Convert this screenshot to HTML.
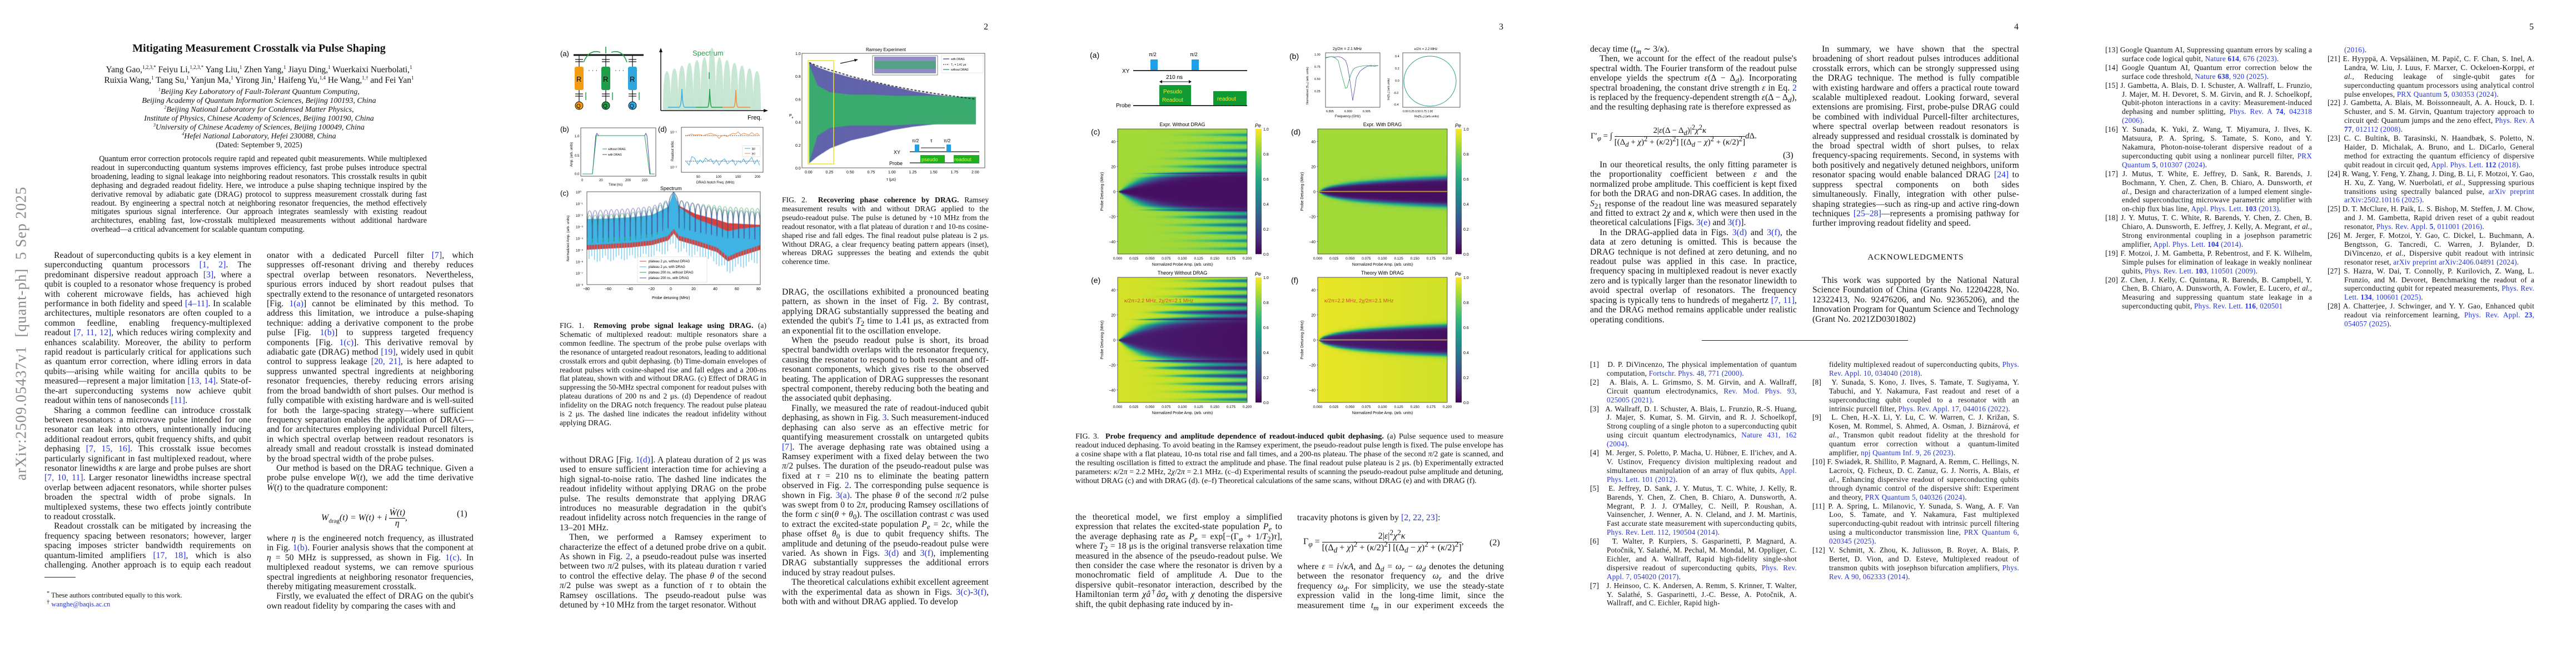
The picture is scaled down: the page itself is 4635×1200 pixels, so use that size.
<!DOCTYPE html>
<html><head><meta charset="utf-8">
<style>
html,body{margin:0;padding:0;background:#fff;}
body{width:4635px;height:1200px;position:relative;overflow:hidden;font-family:"Liberation Serif",serif;color:#111;}
sup,sub{line-height:0;}
.blk{position:absolute;text-align:justify;hyphens:auto;overflow:hidden;}
.body{font-size:15.6px;line-height:17.4px;letter-spacing:0.1px;}
.body p{margin:0;text-indent:1.1em;}
.body p.ni{text-indent:0;}
.cap{font-size:13.6px;line-height:15.9px;}
.ref{font-size:13.2px;line-height:15.9px;letter-spacing:0.25px;}
.ref div{padding-left:30px;text-indent:-30px;}
a,.lk{color:#2233dd;text-decoration:none;}
.c{text-align:center;position:absolute;}
.eq{position:absolute;font-size:16px;font-style:italic;}
svg text{font-family:"Liberation Sans",sans-serif;}
canvas{position:absolute;}
</style></head>
<body>

<div style="position:absolute;left:38px;top:600px;width:0;height:0;">
<div style="position:absolute;transform:translate(-50%,-50%) rotate(-90deg);white-space:nowrap;font-size:27px;color:#8a8a8a;letter-spacing:1px;left:0;top:0;">arXiv:2509.05437v1&nbsp; [quant-ph]&nbsp; 5 Sep 2025</div></div>

<div class="c" style="left:1764px;top:40px;width:20px;font-size:16px;">2</div>
<div class="c" style="left:2691px;top:40px;width:20px;font-size:16px;">3</div>
<div class="c" style="left:3618px;top:40px;width:20px;font-size:16px;">4</div>
<div class="c" style="left:4545px;top:40px;width:20px;font-size:16px;">5</div>

<div class="c" style="left:80px;width:772px;top:76px;font-size:20px;font-weight:bold;">Mitigating Measurement Crosstalk via Pulse Shaping</div>
<div class="c" style="left:120px;width:692px;top:116px;font-size:15.5px;line-height:19px;">Yang Gao,<sup style="font-size:9px">1,2,3,*</sup> Feiyu Li,<sup style="font-size:9px">1,2,3,*</sup> Yang Liu,<sup style="font-size:9px">1</sup> Zhen Yang,<sup style="font-size:9px">1</sup> Jiayu Ding,<sup style="font-size:9px">1</sup> Wuerkaixi Nuerbolati,<sup style="font-size:9px">1</sup><br>Ruixia Wang,<sup style="font-size:9px">1</sup> Tang Su,<sup style="font-size:9px">1</sup> Yanjun Ma,<sup style="font-size:9px">1</sup> Yirong Jin,<sup style="font-size:9px">1</sup> Haifeng Yu,<sup style="font-size:9px">1,4</sup> He Wang,<sup style="font-size:9px">1,†</sup> and Fei Yan<sup style="font-size:9px">1</sup></div>
<div class="c" style="left:120px;width:692px;top:158px;font-size:14px;line-height:16px;font-style:italic;"><sup style="font-size:8px">1</sup>Beijing Key Laboratory of Fault-Tolerant Quantum Computing,<br>Beijing Academy of Quantum Information Sciences, Beijing 100193, China<br><sup style="font-size:8px">2</sup>Beijing National Laboratory for Condensed Matter Physics,<br>Institute of Physics, Chinese Academy of Sciences, Beijing 100190, China<br><sup style="font-size:8px">3</sup>University of Chinese Academy of Sciences, Beijing 100049, China<br><sup style="font-size:8px">4</sup>Hefei National Laboratory, Hefei 230088, China<br><span style="font-style:normal">(Dated: September 9, 2025)</span></div>
<div class="blk" style="left:164px;width:604px;top:279px;height:145px;font-size:14.2px;line-height:15.9px;"><span style="padding-left:1em"></span>Quantum error correction protocols require rapid and repeated qubit measurements. While multiplexed readout in superconducting quantum systems improves efficiency, fast probe pulses introduce spectral broadening, leading to signal leakage into neighboring readout resonators. This crosstalk results in qubit dephasing and degraded readout fidelity. Here, we introduce a pulse shaping technique inspired by the derivative removal by adiabatic gate (DRAG) protocol to suppress measurement crosstalk during fast readout. By engineering a spectral notch at neighboring resonator frequencies, the method effectively mitigates spurious signal interference. Our approach integrates seamlessly with existing readout architectures, enabling fast, low-crosstalk multiplexed measurements without additional hardware overhead—a critical advancement for scalable quantum computing.</div>

<div class="blk body" style="left:80px;width:372px;top:451px;height:575px;">
<p>Readout of superconducting qubits is a key element in superconducting quantum processors <a>[1, 2]</a>. The predominant dispersive readout approach <a>[3]</a>, where a qubit is coupled to a resonator whose frequency is probed with coherent microwave fields, has achieved high performance in both fidelity and speed <a>[4–11]</a>. In scalable architectures, multiple resonators are often coupled to a common feedline, enabling frequency-multiplexed readout <a>[7, 11, 12]</a>, which reduces wiring complexity and enhances scalability. Moreover, the ability to perform rapid readout is particularly critical for applications such as quantum error correction, where idling errors in data qubits—arising while waiting for ancilla qubits to be measured—represent a major limitation <a>[13, 14]</a>. State-of-the-art superconducting systems now achieve qubit readout within tens of nanoseconds <a>[11]</a>.</p>
<p>Sharing a common feedline can introduce crosstalk between resonators: a microwave pulse intended for one resonator can leak into others, unintentionally inducing additional readout errors, qubit frequency shifts, and qubit dephasing <a>[7, 15, 16]</a>. This crosstalk issue becomes particularly significant in fast multiplexed readout, where resonator linewidths <i>κ</i> are large and probe pulses are short <a>[7, 10, 11]</a>. Larger resonator linewidths increase spectral overlap between adjacent resonators, while shorter pulses broaden the spectral width of probe signals. In multiplexed systems, these two effects jointly contribute to readout crosstalk.</p>
<p>Readout crosstalk can be mitigated by increasing the frequency spacing between resonators; however, larger spacing imposes stricter bandwidth requirements on quantum-limited amplifiers <a>[17, 18]</a>, which is also challenging. Another approach is to equip each readout res-</p></div>
<div style="position:absolute;left:80px;top:1038px;width:56px;height:1px;background:#222;"></div>
<div class="blk" style="left:84px;top:1064px;width:360px;font-size:12.5px;line-height:15.5px;"><sup>*</sup> These authors contributed equally to this work.<br><sup>†</sup> <a>wanghe@baqis.ac.cn</a></div>

<div class="blk body" style="left:480px;width:372px;top:451px;height:436px;">
<p class="ni">onator with a dedicated Purcell filter <a>[7]</a>, which suppresses off-resonant driving and thereby reduces spectral overlap between resonators. Nevertheless, spurious errors induced by short readout pulses that spectrally extend to the resonance of untargeted resonators [Fig. <a>1(a)</a>] cannot be eliminated by this method. To address this limitation, we introduce a pulse-shaping technique: adding a derivative component to the probe pulse [Fig. <a>1(b)</a>] to suppress targeted frequency components [Fig. <a>1(c)</a>]. This derivative removal by adiabatic gate (DRAG) method <a>[19]</a>, widely used in qubit control to suppress leakage <a>[20, 21]</a>, is here adapted to suppress unwanted spectral ingredients at neighboring resonator frequencies, thereby reducing errors arising from the broad bandwidth of short pulses. Our method is fully compatible with existing hardware and is well-suited for both the large-spacing strategy—where sufficient frequency separation enables the application of DRAG—and for architectures employing individual Purcell filters, in which spectral overlap between readout resonators is already small and readout crosstalk is instead dominated by the broad spectral width of the probe pulses.</p>
<p>Our method is based on the DRAG technique. Given a probe pulse envelope <i>W</i>(<i>t</i>), we add the time derivative <i>Ẇ</i>(<i>t</i>) to the quadrature component:</p></div>
<div class="eq" style="left:578px;top:914px;"><i>W</i><sub style="font-style:normal;font-size:11px">drag</sub>(<i>t</i>) = <i>W</i>(<i>t</i>) + <i>i</i> <span style="display:inline-block;vertical-align:middle;text-align:center;line-height:18px;"><span style="border-bottom:1px solid #111;display:block;">Ẇ(t)</span>η</span>,</div>
<div class="c" style="left:822px;top:916px;font-size:16px;">(1)</div>
<div class="blk body" style="left:480px;width:372px;top:960px;height:140px;">
<p class="ni">where <i>η</i> is the engineered notch frequency, as illustrated in Fig. <a>1(b)</a>. Fourier analysis shows that the component at <i>η</i> = 50 MHz is suppressed, as shown in Fig. <a>1(c)</a>. In multiplexed readout systems, we can remove spurious spectral ingredients at neighboring resonator frequencies, thereby mitigating measurement crosstalk.</p>
<p>Firstly, we evaluated the effect of DRAG on the qubit's own readout fidelity by comparing the cases with and</p></div>

<div class="blk cap" style="left:1007px;width:372px;top:578px;height:210px;">FIG. 1. &nbsp;<b>Removing probe signal leakage using DRAG.</b> (a) Schematic of multiplexed readout: multiple resonators share a common feedline. The spectrum of the probe pulse overlaps with the resonance of untargeted readout resonators, leading to additional crosstalk errors and qubit dephasing. (b) Time-domain envelopes of readout pulses with cosine-shaped rise and fall edges and a 200-ns flat plateau, shown with and without DRAG. (c) Effect of DRAG in suppressing the 50-MHz spectral component for readout pulses with plateau durations of 200 ns and 2 μs. (d) Dependence of readout infidelity on the DRAG notch frequency. The readout pulse plateau is 2 μs. The dashed line indicates the readout infidelity without applying DRAG.</div>
<div class="blk body" style="left:1007px;width:372px;top:819px;height:280px;">
<p class="ni">without DRAG [Fig. <a>1(d)</a>]. A plateau duration of 2 μs was used to ensure sufficient interaction time for achieving a high signal-to-noise ratio. The dashed line indicates the readout infidelity without applying DRAG on the probe pulse. The results demonstrate that applying DRAG introduces no measurable degradation in the qubit's readout infidelity across notch frequencies in the range of 13–201 MHz.</p>
<p>Then, we performed a Ramsey experiment to characterize the effect of a detuned probe drive on a qubit. As shown in Fig. <a>2</a>, a pseudo-readout pulse was inserted between two <i>π</i>/2 pulses, with its plateau duration <i>τ</i> varied to control the effective delay. The phase <i>θ</i> of the second <i>π</i>/2 pulse was swept as a function of <i>τ</i> to obtain the Ramsey oscillations. The pseudo-readout pulse was detuned by +10 MHz from the target resonator. Without</p></div>

<div class="blk cap" style="left:1407px;width:372px;top:352px;height:130px;">FIG. 2. &nbsp;<b>Recovering phase coherence by DRAG.</b> Ramsey measurement results with and without DRAG applied to the pseudo-readout pulse. The pulse is detuned by +10 MHz from the readout resonator, with a flat plateau of duration <i>τ</i> and 10-ns cosine-shaped rise and fall edges. The final readout pulse plateau is 2 μs. Without DRAG, a clear frequency beating pattern appears (inset), whereas DRAG suppresses the beating and extends the qubit coherence time.</div>
<div class="blk body" style="left:1407px;width:372px;top:517px;height:582px;">
<p class="ni">DRAG, the oscillations exhibited a pronounced beating pattern, as shown in the inset of Fig. <a>2</a>. By contrast, applying DRAG substantially suppressed the beating and extended the qubit's <i>T</i><sub>2</sub> time to 1.41 μs, as extracted from an exponential fit to the oscillation envelope.</p>
<p>When the pseudo readout pulse is short, its broad spectral bandwidth overlaps with the resonator frequency, causing the resonator to respond to both resonant and off-resonant components, which gives rise to the observed beating. The application of DRAG suppresses the resonant spectral component, thereby reducing both the beating and the associated qubit dephasing.</p>
<p>Finally, we measured the rate of readout-induced qubit dephasing, as shown in Fig. <a>3</a>. Such measurement-induced dephasing can also serve as an effective metric for quantifying measurement crosstalk on untargeted qubits <a>[7]</a>. The average dephasing rate was obtained using a Ramsey experiment with a fixed delay between the two <i>π</i>/2 pulses. The duration of the pseudo-readout pulse was fixed at <i>τ</i> = 210 ns to eliminate the beating pattern observed in Fig. <a>2</a>. The corresponding pulse sequence is shown in Fig. <a>3(a)</a>. The phase <i>θ</i> of the second <i>π</i>/2 pulse was swept from 0 to 2<i>π</i>, producing Ramsey oscillations of the form <i>c</i> sin(<i>θ</i> + <i>θ</i><sub>0</sub>). The oscillation contrast <i>c</i> was used to extract the excited-state population <i>P<sub>e</sub></i> = 2<i>c</i>, while the phase offset <i>θ</i><sub>0</sub> is due to qubit frequency shifts. The amplitude and detuning of the pseudo-readout pulse were varied. As shown in Figs. <a>3(d)</a> and <a>3(f)</a>, implementing DRAG substantially suppresses the additional errors induced by stray readout pulses.</p>
<p>The theoretical calculations exhibit excellent agreement with the experimental data as shown in Figs. <a>3(c)</a>-<a>3(f)</a>, both with and without DRAG applied. To develop</p></div>

<div class="blk cap" style="left:1935px;width:770px;top:778px;height:115px;font-size:14px;">FIG. 3. &nbsp;<b>Probe frequency and amplitude dependence of readout-induced qubit dephasing.</b> (a) Pulse sequence used to measure readout induced dephasing. To avoid beating in the Ramsey experiment, the pseudo-readout pulse length is fixed. The pulse envelope has a cosine shape with a flat plateau, 10-ns total rise and fall times, and a 200-ns plateau. The phase of the second <i>π</i>/2 gate is scanned, and the resulting oscillation is fitted to extract the amplitude and phase. The final readout pulse plateau is 2 μs. (b) Experimentally extracted parameters: <i>κ</i>/2<i>π</i> = 2.2 MHz, 2<i>χ</i>/2<i>π</i> = 2.1 MHz. (c–d) Experimental results of scanning the pseudo-readout pulse amplitude and detuning, without DRAG (c) and with DRAG (d). (e–f) Theoretical calculations of the same scans, without DRAG (e) and with DRAG (f).</div>
<div class="blk body" style="left:1935px;width:372px;top:922px;height:176px;">
<p class="ni">the theoretical model, we first employ a simplified expression that relates the excited-state population <i>P<sub>e</sub></i> to the average dephasing rate as <i>P<sub>e</sub></i> = exp[−(Γ<sub><i>φ</i></sub> + 1/<i>T</i><sub>2</sub>)<i>τ</i>], where <i>T</i><sub>2</sub> = 18 μs is the original transverse relaxation time measured in the absence of the pseudo-readout pulse. We then consider the case where the resonator is driven by a monochromatic field of amplitude <i>A</i>. Due to the dispersive qubit–resonator interaction, described by the Hamiltonian term <i>χâ</i><sup>†</sup><i>âσ<sub>z</sub></i> with <i>χ</i> denoting the dispersive shift, the qubit dephasing rate induced by in-</p></div>
<div class="blk body" style="left:2334px;width:372px;top:923px;height:20px;"><p class="ni">tracavity photons is given by <a>[2, 22, 23]</a>:</p></div>
<div class="eq" style="left:2345px;top:955px;font-style:normal;">Γ<sub><i>φ</i></sub> = <span style="display:inline-block;vertical-align:middle;text-align:center;line-height:20px;"><span style="border-bottom:1px solid #111;display:block;">2|<i>ε</i>|<sup>2</sup><i>χ</i><sup>2</sup><i>κ</i></span>[(Δ<sub><i>d</i></sub> + <i>χ</i>)<sup>2</sup> + (<i>κ</i>/2)<sup>2</sup>] [(Δ<sub><i>d</i></sub> − <i>χ</i>)<sup>2</sup> + (<i>κ</i>/2)<sup>2</sup>]</span>,</div>
<div class="c" style="left:2680px;top:968px;font-size:16px;">(2)</div>
<div class="blk body" style="left:2334px;width:372px;top:1011px;height:88px;"><p class="ni">where <i>ε</i> = <i>i</i>√<i>κ</i><i>A</i>, and Δ<sub><i>d</i></sub> = <i>ω<sub>r</sub></i> − <i>ω<sub>d</sub></i> denotes the detuning between the resonator frequency <i>ω<sub>r</sub></i> and the drive frequency <i>ω<sub>d</sub></i>. For simplicity, we use the steady-state expression valid in the long-time limit, since the measurement time <i>t<sub>m</sub></i> in our experiment exceeds the photon</p></div>

<div class="blk body" style="left:2861px;width:372px;top:80px;height:140px;">
<p class="ni">decay time (<i>t<sub>m</sub></i> ∼ 3/<i>κ</i>).</p>
<p>Then, we account for the effect of the readout pulse's spectral width. The Fourier transform of the readout pulse envelope yields the spectrum <i>ε</i>(Δ − Δ<sub><i>d</i></sub>). Incorporating spectral broadening, the constant drive strength <i>ε</i> in Eq. <a>2</a> is replaced by the frequency-dependent strength <i>ε</i>(Δ − Δ<sub><i>d</i></sub>), and the resulting dephasing rate is therefore expressed as</p></div>
<div class="eq" style="left:2862px;top:225px;font-style:normal;font-size:15px;">Γ′<sub><i>φ</i></sub> = ∫ <span style="display:inline-block;vertical-align:middle;text-align:center;line-height:20px;"><span style="border-bottom:1px solid #111;display:block;">2|<i>ε</i>(Δ − Δ<sub><i>d</i></sub>)|<sup>2</sup><i>χ</i><sup>2</sup><i>κ</i></span>[(Δ<sub><i>d</i></sub> + <i>χ</i>)<sup>2</sup> + (<i>κ</i>/2)<sup>2</sup>] [(Δ<sub><i>d</i></sub> − <i>χ</i>)<sup>2</sup> + (<i>κ</i>/2)<sup>2</sup>]</span><i>d</i>Δ.</div>
<div class="c" style="left:3208px;top:271px;font-size:16px;">(3)</div>
<div class="blk body" style="left:2861px;width:372px;top:288px;height:297px;">
<p>In our theoretical results, the only fitting parameter is the proportionality coefficient between <i>ε</i> and the normalized probe amplitude. This coefficient is kept fixed for both the DRAG and non-DRAG cases. In addition, the <i>S</i><sub>21</sub> response of the readout line was measured separately and fitted to extract 2<i>χ</i> and <i>κ</i>, which were then used in the theoretical calculations [Figs. <a>3(e)</a> and <a>3(f)</a>].</p>
<p>In the DRAG-applied data in Figs. <a>3(d)</a> and <a>3(f)</a>, the data at zero detuning is omitted. This is because the DRAG technique is not defined at zero detuning, and no readout pulse was applied in this case. In practice, frequency spacing in multiplexed readout is never exactly zero and is typically larger than the resonator linewidth to avoid spectral overlap of resonators. The frequency spacing is typically tens to hundreds of megahertz <a>[7, 11]</a>, and the DRAG method remains applicable under realistic operating conditions.</p></div>
<div class="blk body" style="left:3261px;width:372px;top:80px;height:332px;">
<p>In summary, we have shown that the spectral broadening of short readout pulses introduces additional crosstalk errors, which can be strongly suppressed using the DRAG technique. The method is fully compatible with existing hardware and offers a practical route toward scalable multiplexed readout. Looking forward, several extensions are promising. First, probe-pulse DRAG could be combined with individual Purcell-filter architectures, where spectral overlap between readout resonators is already suppressed and residual crosstalk is dominated by the broad spectral width of short pulses, to relax frequency-spacing requirements. Second, in systems with both positively and negatively detuned neighbors, uniform resonator spacing would enable balanced DRAG <a>[24]</a> to suppress spectral components on both sides simultaneously. Finally, integration with other pulse-shaping strategies—such as ring-up and active ring-down techniques <a>[25–28]</a>—represents a promising pathway for further improving readout fidelity and speed.</p></div>
<div class="c" style="left:3261px;width:372px;top:455px;font-size:15px;letter-spacing:1px;">ACKNOWLEDGMENTS</div>
<div class="blk body" style="left:3261px;width:372px;top:496px;height:90px;">
<p>This work was supported by the National Natural Science Foundation of China (Grants No. 12204228, No. 12322413, No. 92476206, and No. 92365206), and the Innovation Program for Quantum Science and Technology (Grant No. 2021ZD0301802)</p></div>
<div style="position:absolute;left:3062px;top:612px;width:371px;height:1px;background:#222;"></div>

<div class="blk ref" style="left:2861px;width:372px;top:648px;height:445px;">
<div>[1]&nbsp;&nbsp; D. P. DiVincenzo, The physical implementation of quantum computation, <a>Fortschr. Phys. 48, 771 (2000)</a>.</div>
<div>[2]&nbsp;&nbsp; A. Blais, A. L. Grimsmo, S. M. Girvin, and A. Wallraff, Circuit quantum electrodynamics, <a>Rev. Mod. Phys. 93, 025005 (2021)</a>.</div>
<div>[3]&nbsp;&nbsp; A. Wallraff, D. I. Schuster, A. Blais, L. Frunzio, R.-S. Huang, J. Majer, S. Kumar, S. M. Girvin, and R. J. Schoelkopf, Strong coupling of a single photon to a superconducting qubit using circuit quantum electrodynamics, <a>Nature 431, 162 (2004)</a>.</div>
<div>[4]&nbsp;&nbsp; M. Jerger, S. Poletto, P. Macha, U. Hübner, E. Il'ichev, and A. V. Ustinov, Frequency division multiplexing readout and simultaneous manipulation of an array of flux qubits, <a>Appl. Phys. Lett. 101 (2012)</a>.</div>
<div>[5]&nbsp;&nbsp; E. Jeffrey, D. Sank, J. Y. Mutus, T. C. White, J. Kelly, R. Barends, Y. Chen, Z. Chen, B. Chiaro, A. Dunsworth, A. Megrant, P. J. J. O'Malley, C. Neill, P. Roushan, A. Vainsencher, J. Wenner, A. N. Cleland, and J. M. Martinis, Fast accurate state measurement with superconducting qubits, <a>Phys. Rev. Lett. 112, 190504 (2014)</a>.</div>
<div>[6]&nbsp;&nbsp; T. Walter, P. Kurpiers, S. Gasparinetti, P. Magnard, A. Potočnik, Y. Salathé, M. Pechal, M. Mondal, M. Oppliger, C. Eichler, and A. Wallraff, Rapid high-fidelity single-shot dispersive readout of superconducting qubits, <a>Phys. Rev. Appl. 7, 054020 (2017)</a>.</div>
<div>[7]&nbsp;&nbsp; J. Heinsoo, C. K. Andersen, A. Remm, S. Krinner, T. Walter, Y. Salathé, S. Gasparinetti, J.-C. Besse, A. Potočnik, A. Wallraff, and C. Eichler, Rapid high-</div></div>
<div class="blk ref" style="left:3261px;width:372px;top:648px;height:445px;">
<div style="padding-left:30px;text-indent:0">fidelity multiplexed readout of superconducting qubits, <a>Phys. Rev. Appl. 10, 034040 (2018)</a>.</div>
<div>[8]&nbsp;&nbsp; Y. Sunada, S. Kono, J. Ilves, S. Tamate, T. Sugiyama, Y. Tabuchi, and Y. Nakamura, Fast readout and reset of a superconducting qubit coupled to a resonator with an intrinsic purcell filter, <a>Phys. Rev. Appl. 17, 044016 (2022)</a>.</div>
<div>[9]&nbsp;&nbsp; L. Chen, H.-X. Li, Y. Lu, C. W. Warren, C. J. Križan, S. Kosen, M. Rommel, S. Ahmed, A. Osman, J. Biznárová, <i>et al.</i>, Transmon qubit readout fidelity at the threshold for quantum error correction without a quantum-limited amplifier, <a>npj Quantum Inf. 9, 26 (2023)</a>.</div>
<div>[10] F. Swiadek, R. Shillito, P. Magnard, A. Remm, C. Hellings, N. Lacroix, Q. Ficheux, D. C. Zanuz, G. J. Norris, A. Blais, <i>et al.</i>, Enhancing dispersive readout of superconducting qubits through dynamic control of the dispersive shift: Experiment and theory, <a>PRX Quantum 5, 040326 (2024)</a>.</div>
<div>[11] P. A. Spring, L. Milanovic, Y. Sunada, S. Wang, A. F. Van Loo, S. Tamate, and Y. Nakamura, Fast multiplexed superconducting-qubit readout with intrinsic purcell filtering using a multiconductor transmission line, <a>PRX Quantum 6, 020345 (2025)</a>.</div>
<div>[12] V. Schmitt, X. Zhou, K. Juliusson, B. Royer, A. Blais, P. Bertet, D. Vion, and D. Esteve, Multiplexed readout of transmon qubits with josephson bifurcation amplifiers, <a>Phys. Rev. A 90, 062333 (2014)</a>.</div></div>

<div class="blk ref" style="left:3788px;width:372px;top:82px;height:540px;">
<div>[13] Google Quantum AI, Suppressing quantum errors by scaling a surface code logical qubit, <a>Nature <b>614</b>, 676 (2023)</a>.</div>
<div>[14] Google Quantum AI, Quantum error correction below the surface code threshold, <a>Nature <b>638</b>, 920 (2025)</a>.</div>
<div>[15] J. Gambetta, A. Blais, D. I. Schuster, A. Wallraff, L. Frunzio, J. Majer, M. H. Devoret, S. M. Girvin, and R. J. Schoelkopf, Qubit-photon interactions in a cavity: Measurement-induced dephasing and number splitting, <a>Phys. Rev. A <b>74</b>, 042318 (2006)</a>.</div>
<div>[16] Y. Sunada, K. Yuki, Z. Wang, T. Miyamura, J. Ilves, K. Matsuura, P. A. Spring, S. Tamate, S. Kono, and Y. Nakamura, Photon-noise-tolerant dispersive readout of a superconducting qubit using a nonlinear purcell filter, <a>PRX Quantum <b>5</b>, 010307 (2024)</a>.</div>
<div>[17] J. Mutus, T. White, E. Jeffrey, D. Sank, R. Barends, J. Bochmann, Y. Chen, Z. Chen, B. Chiaro, A. Dunsworth, <i>et al.</i>, Design and characterization of a lumped element single-ended superconducting microwave parametric amplifier with on-chip flux bias line, <a>Appl. Phys. Lett. <b>103</b> (2013)</a>.</div>
<div>[18] J. Y. Mutus, T. C. White, R. Barends, Y. Chen, Z. Chen, B. Chiaro, A. Dunsworth, E. Jeffrey, J. Kelly, A. Megrant, <i>et al.</i>, Strong environmental coupling in a josephson parametric amplifier, <a>Appl. Phys. Lett. <b>104</b> (2014)</a>.</div>
<div>[19] F. Motzoi, J. M. Gambetta, P. Rebentrost, and F. K. Wilhelm, Simple pulses for elimination of leakage in weakly nonlinear qubits, <a>Phys. Rev. Lett. <b>103</b>, 110501 (2009)</a>.</div>
<div>[20] Z. Chen, J. Kelly, C. Quintana, R. Barends, B. Campbell, Y. Chen, B. Chiaro, A. Dunsworth, A. Fowler, E. Lucero, <i>et al.</i>, Measuring and suppressing quantum state leakage in a superconducting qubit, <a>Phys. Rev. Lett. <b>116</b>, 020501</a></div></div>
<div class="blk ref" style="left:4188px;width:372px;top:82px;height:560px;">
<div style="padding-left:30px;text-indent:0"><a>(2016)</a>.</div>
<div>[21] E. Hyyppä, A. Vepsäläinen, M. Papič, C. F. Chan, S. Inel, A. Landra, W. Liu, J. Luus, F. Marxer, C. Ockeloen-Korppi, <i>et al.</i>, Reducing leakage of single-qubit gates for superconducting quantum processors using analytical control pulse envelopes, <a>PRX Quantum <b>5</b>, 030353 (2024)</a>.</div>
<div>[22] J. Gambetta, A. Blais, M. Boissonneault, A. A. Houck, D. I. Schuster, and S. M. Girvin, Quantum trajectory approach to circuit qed: Quantum jumps and the zeno effect, <a>Phys. Rev. A <b>77</b>, 012112 (2008)</a>.</div>
<div>[23] C. C. Bultink, B. Tarasinski, N. Haandbæk, S. Poletto, N. Haider, D. Michalak, A. Bruno, and L. DiCarlo, General method for extracting the quantum efficiency of dispersive qubit readout in circuit qed, <a>Appl. Phys. Lett. <b>112</b> (2018)</a>.</div>
<div>[24] R. Wang, Y. Feng, Y. Zhang, J. Ding, B. Li, F. Motzoi, Y. Gao, H. Xu, Z. Yang, W. Nuerbolati, <i>et al.</i>, Suppressing spurious transitions using spectrally balanced pulse, <a>arXiv preprint arXiv:2502.10116 (2025)</a>.</div>
<div>[25] D. T. McClure, H. Paik, L. S. Bishop, M. Steffen, J. M. Chow, and J. M. Gambetta, Rapid driven reset of a qubit readout resonator, <a>Phys. Rev. Appl. <b>5</b>, 011001 (2016)</a>.</div>
<div>[26] M. Jerger, F. Motzoi, Y. Gao, C. Dickel, L. Buchmann, A. Bengtsson, G. Tancredi, C. Warren, J. Bylander, D. DiVincenzo, <i>et al.</i>, Dispersive qubit readout with intrinsic resonator reset, <a>arXiv preprint arXiv:2406.04891 (2024)</a>.</div>
<div>[27] S. Hazra, W. Dai, T. Connolly, P. Kurilovich, Z. Wang, L. Frunzio, and M. Devoret, Benchmarking the readout of a superconducting qubit for repeated measurements, <a>Phys. Rev. Lett. <b>134</b>, 100601 (2025)</a>.</div>
<div>[28] A. Chatterjee, J. Schwinger, and Y. Y. Gao, Enhanced qubit readout via reinforcement learning, <a>Phys. Rev. Appl. <b>23</b>, 054057 (2025)</a>.</div></div>

<canvas id="cvSpec" width="312" height="167" style="left:1056px;top:345px;"></canvas>
<canvas id="cvRam" width="329" height="206" style="left:1443px;top:96px;"></canvas>
<canvas id="hmC" width="233" height="225" style="left:2011px;top:232px;"></canvas>
<canvas id="hmD" width="233" height="225" style="left:2371px;top:232px;"></canvas>
<canvas id="hmE" width="233" height="225" style="left:2011px;top:499px;"></canvas>
<canvas id="hmF" width="233" height="225" style="left:2371px;top:499px;"></canvas>

<svg id="fig" width="4635" height="1200" style="position:absolute;left:0;top:0;" xmlns="http://www.w3.org/2000/svg">
<g>
<text x="1008" y="101" font-size="13">(a)</text>
<line x1="1032" y1="99" x2="1158" y2="99" stroke="#111" stroke-width="3"/>
<path d="M1080 94 Q1060 88 1050 112" fill="none" stroke="#1e9e4a" stroke-width="1.6"/>
<path d="M1100 94 Q1120 88 1128 112" fill="none" stroke="#1e9e4a" stroke-width="1.6"/>
<line x1="1090" y1="84" x2="1090" y2="96" stroke="#1e9e4a" stroke-width="1.6"/>
<g stroke="#111" stroke-width="1.2">
<line x1="1042" y1="99" x2="1042" y2="120"/><line x1="1035" y1="107" x2="1049" y2="107"/><line x1="1035" y1="111" x2="1049" y2="111"/>
<line x1="1090" y1="99" x2="1090" y2="120"/><line x1="1083" y1="107" x2="1097" y2="107"/><line x1="1083" y1="111" x2="1097" y2="111"/>
<line x1="1138" y1="99" x2="1138" y2="120"/><line x1="1131" y1="107" x2="1145" y2="107"/><line x1="1131" y1="111" x2="1145" y2="111"/>
<line x1="1042" y1="162" x2="1042" y2="183"/><line x1="1035" y1="169" x2="1049" y2="169"/><line x1="1035" y1="173" x2="1049" y2="173"/>
<line x1="1090" y1="162" x2="1090" y2="183"/><line x1="1083" y1="169" x2="1097" y2="169"/><line x1="1083" y1="173" x2="1097" y2="173"/>
<line x1="1138" y1="162" x2="1138" y2="183"/><line x1="1131" y1="169" x2="1145" y2="169"/><line x1="1131" y1="173" x2="1145" y2="173"/>
</g>
<rect x="1034" y="120" width="16" height="42" rx="3" fill="#f39c12"/>
<rect x="1082" y="120" width="16" height="42" rx="3" fill="#1e9e4a"/>
<rect x="1130" y="120" width="16" height="42" rx="3" fill="#2ea7e0"/>
<text x="1037" y="147" font-size="13">R</text><text x="1085" y="147" font-size="13">R</text><text x="1133" y="147" font-size="13">R</text>
<text x="1058" y="130" font-size="11">· · ·</text><text x="1106" y="130" font-size="11">· · ·</text>
<circle cx="1042" cy="190" r="7" fill="#f39c12" stroke="#111"/><circle cx="1090" cy="190" r="7" fill="#1e9e4a" stroke="#111"/><circle cx="1138" cy="190" r="7" fill="#2ea7e0" stroke="#111"/>
<text x="1037" y="194" font-size="10">Q</text><text x="1085" y="194" font-size="10">Q</text><text x="1133" y="194" font-size="10">Q</text>
<g stroke="#1e9e4a" stroke-width="1.4"><line x1="1054" y1="166" x2="1054" y2="180"/><line x1="1102" y1="166" x2="1102" y2="180"/><line x1="1150" y1="166" x2="1150" y2="180"/></g>
</g>
<g id="specSketch">
<line x1="1189" y1="90" x2="1189" y2="199" stroke="#111" stroke-width="1.5"/>
<line x1="1189" y1="199" x2="1378" y2="199" stroke="#111" stroke-width="1.5"/>
<polygon points="1189,86 1186,94 1192,94" fill="#111"/><polygon points="1382,199 1374,196 1374,202" fill="#111"/>
<text x="1246" y="100" font-size="13" fill="#1e9e4a">Spectrum</text>
<text x="1345" y="215" font-size="11">Freq.</text>
</g>
<g>
<text x="1008" y="237" font-size="13">(b)</text>
<rect x="1045" y="230" width="135" height="87" fill="none" stroke="#333" stroke-width="0.8"/>
<text x="1034" y="247" font-size="6">1.0</text><text x="1034" y="282" font-size="6">0.5</text><text x="1034" y="315" font-size="6">0.0</text>
<text x="1030" y="300" font-size="6" transform="rotate(-90 1030 300)">Amp. (arb. units)</text>
<text x="1046" y="326" font-size="6">0</text><text x="1078" y="326" font-size="6">20</text><text x="1125" y="326" font-size="6">200</text><text x="1155" y="326" font-size="6">220</text>
<text x="1095" y="334" font-size="6">Time (ns)</text>
<polyline points="1048,313 1066,313 1072,244 1074,240 1077,244 1160,244 1162,240 1164,244 1170,313 1178,313" fill="none" stroke="#4b4ba0" stroke-width="1"/>
<polyline points="1048,313 1066,313 1073,244 1160,244 1169,313 1178,313" fill="none" stroke="#2a9d5c" stroke-width="1"/>
<line x1="1084" y1="268" x2="1092" y2="268" stroke="#2a9d5c"/><text x="1094" y="270" font-size="5">without DRAG</text>
<line x1="1084" y1="278" x2="1092" y2="278" stroke="#4b4ba0"/><text x="1094" y="280" font-size="5">with DRAG</text>
</g>
<g>
<text x="1184" y="237" font-size="13">(d)</text>
<rect x="1226" y="229" width="147" height="81" fill="none" stroke="#333" stroke-width="0.8"/>
<text x="1206" y="240" font-size="6">10⁻¹</text><text x="1206" y="303" font-size="6">10⁻²</text>
<text x="1212" y="290" font-size="6" transform="rotate(-90 1212 290)">Readout Infid.</text>
<text x="1253" y="320" font-size="6">50</text><text x="1288" y="320" font-size="6">100</text><text x="1323" y="320" font-size="6">150</text><text x="1358" y="320" font-size="6">200</text>
<text x="1253" y="330" font-size="6">DRAG Notch Freq. (MHz)</text>
<line x1="1233" y1="244" x2="1367" y2="244" stroke="#111" stroke-dasharray="2,1.5" stroke-width="0.7"/>
<line x1="1233" y1="290" x2="1367" y2="290" stroke="#111" stroke-dasharray="2,1.5" stroke-width="0.7"/>
<polyline id="fig1dE" fill="none" stroke="#f08a3c" stroke-width="0.9"/>
<polyline id="fig1dG" fill="none" stroke="#36a9e1" stroke-width="0.9"/>
<rect x="1336" y="262" width="32" height="20" fill="#fff" stroke="#ccc" stroke-width="0.5"/>
<line x1="1340" y1="267" x2="1350" y2="267" stroke="#36a9e1"/><text x="1353" y="269" font-size="5">|g⟩</text>
<line x1="1340" y1="276" x2="1350" y2="276" stroke="#f08a3c"/><text x="1353" y="278" font-size="5">|e⟩</text>
</g>
<g>
<text x="1008" y="352" font-size="13">(c)</text>
<text x="1188" y="342" font-size="9">Spectrum</text>
<rect x="1056" y="345" width="312" height="167" fill="none" stroke="#333" stroke-width="0.8"/>
<text x="1024" y="470" font-size="6.5" transform="rotate(-90 1024 470)">Normalized Amp. (arb. units)</text>
<text x="1173" y="538" font-size="7">Probe detuning (MHz)</text>
<g id="fig1cTicks"></g>
<rect x="1147" y="462" width="125" height="46" fill="#fff" stroke="#ccc" stroke-width="0.5"/>
<line x1="1151" y1="470" x2="1163" y2="470" stroke="#d9413b"/><text x="1167" y="472" font-size="6">plateau 2 μs, without DRAG</text>
<line x1="1151" y1="480" x2="1163" y2="480" stroke="#36b4e5"/><text x="1167" y="482" font-size="6">plateau 2 μs, with DRAG</text>
<line x1="1151" y1="490" x2="1163" y2="490" stroke="#2a9d5c"/><text x="1167" y="492" font-size="6">plateau 200 ns, without DRAG</text>
<line x1="1151" y1="500" x2="1163" y2="500" stroke="#4b4ba0"/><text x="1167" y="502" font-size="6">plateau 200 ns, with DRAG</text>
</g>
<g>
<text x="1558" y="92" font-size="8">Ramsey Experiment</text>
<rect x="1443" y="96" width="329" height="206" fill="none" stroke="#333" stroke-width="0.8"/>
<text x="1420" y="210" font-size="7">P<tspan baseline-shift="sub" font-size="5">e</tspan></text>
<g id="fig2Ticks"></g>
<text x="1595" y="325" font-size="7">τ (μs)</text>
<rect x="1454" y="109" width="46" height="186" fill="none" stroke="#f2e21b" stroke-width="1.5"/>
<line x1="1512" y1="114" x2="1540" y2="108" stroke="#111" stroke-width="1.2"/><polygon points="1544,107 1537,106 1538,111" fill="#111"/>
<rect x="1570" y="100" width="117" height="35" fill="#fff" stroke="#333" stroke-width="0.6"/>
<rect x="1573" y="102" width="111" height="30" fill="#6a68b0" opacity="0.75"/>
<rect x="1573" y="110" width="111" height="14" fill="#3aaa6e" opacity="0.7"/>
<rect x="1694" y="100" width="75" height="31" fill="#fff" stroke="#ccc" stroke-width="0.5"/>
<line x1="1697" y1="106" x2="1708" y2="106" stroke="#5b5ea6" stroke-width="1.5"/><text x="1711" y="108" font-size="5">with DRAG</text>
<line x1="1697" y1="116" x2="1708" y2="116" stroke="#111" stroke-dasharray="2,1.5"/><text x="1711" y="118" font-size="5">T₂ = 1.41 μs</text>
<line x1="1697" y1="125" x2="1708" y2="125" stroke="#3aaa6e" stroke-width="1.5"/><text x="1711" y="127" font-size="5">without DRAG</text>
<line x1="1637" y1="273" x2="1762" y2="273" stroke="#111" stroke-width="1.2"/>
<rect x="1646" y="260" width="8" height="13" fill="#1fa0e6"/><rect x="1703" y="260" width="8" height="13" fill="#1fa0e6"/>
<text x="1641" y="256" font-size="8">π/2</text><text x="1698" y="256" font-size="8">π/2</text><text x="1674" y="256" font-size="9">τ</text>
<line x1="1657" y1="266" x2="1700" y2="266" stroke="#111"/>
<text x="1608" y="277" font-size="9">XY</text>
<line x1="1637" y1="293" x2="1762" y2="293" stroke="#111" stroke-width="1.2"/>
<rect x="1656" y="279" width="44" height="14" fill="#1fb01f"/><text x="1658" y="290" font-size="9" fill="#f2f23a">pseudo</text>
<rect x="1716" y="279" width="46" height="14" fill="#1fb01f"/><text x="1717" y="290" font-size="9" fill="#f2f23a">readout</text>
<text x="1600" y="297" font-size="9">Probe</text>
</g>
<g>
<text x="1961" y="104" font-size="14">(a)</text>
<text x="2067" y="101" font-size="9">π/2</text><text x="2141" y="101" font-size="9">π/2</text>
<rect x="2070" y="107" width="13" height="20" fill="#1fa0e6"/><rect x="2144" y="107" width="13" height="20" fill="#1fa0e6"/>
<line x1="2039" y1="127" x2="2244" y2="127" stroke="#333" stroke-width="2"/>
<text x="2019" y="131" font-size="10">XY</text>
<text x="2098" y="142" font-size="10">210 ns</text>
<line x1="2088" y1="147" x2="2142" y2="147" stroke="#111"/><polygon points="2086,147 2091,144 2091,150" fill="#111"/><polygon points="2144,147 2139,144 2139,150" fill="#111"/>
<rect x="2086" y="153" width="57" height="37" fill="#119933"/>
<text x="2093" y="168" font-size="10" fill="#eeee33">Pesudo</text><text x="2091" y="183" font-size="10" fill="#eeee33">Readout</text>
<rect x="2183" y="164" width="60" height="26" fill="#119933"/><text x="2190" y="181" font-size="10" fill="#eeee33">readout</text>
<line x1="2039" y1="190" x2="2244" y2="190" stroke="#333" stroke-width="2"/>
<text x="2008" y="193" font-size="10">Probe</text>
</g>
<g>
<text x="2320" y="106" font-size="14">(b)</text>
<text x="2398" y="90" font-size="7">2χ/2π = 2.1 MHz</text>
<rect x="2385" y="95" width="98" height="98" fill="none" stroke="#333" stroke-width="0.8"/>
<text x="2354" y="188" font-size="5.5" transform="rotate(-90 2354 188)">Normalized |S₂₁| (arb. units)</text>
<text x="2365" y="100" font-size="5.5">1.00</text><text x="2365" y="122" font-size="5.5">0.75</text><text x="2365" y="144" font-size="5.5">0.50</text><text x="2365" y="166" font-size="5.5">0.25</text>
<text x="2386" y="202" font-size="5.5">6.895</text><text x="2419" y="202" font-size="5.5">6.900</text><text x="2452" y="202" font-size="5.5">6.905</text>
<text x="2402" y="211" font-size="6">Frequency (GHz)</text>
<polyline id="s21g" fill="none" stroke="#4b4ba0" stroke-width="0.8"/>
<polyline id="s21e" fill="none" stroke="#2a9d5c" stroke-width="0.8"/>
<text x="2545" y="90" font-size="6">κ/2π = 2.2 MHz</text>
<rect x="2524" y="95" width="103" height="98" fill="none" stroke="#333" stroke-width="0.8"/>
<ellipse cx="2573" cy="146" rx="47" ry="45" fill="none" stroke="#2a9d8f" stroke-width="1"/>
<text x="2510" y="103" font-size="5.5">0.4</text><text x="2510" y="125" font-size="5.5">0.2</text><text x="2510" y="147" font-size="5.5">0.0</text><text x="2507" y="169" font-size="5.5">-0.2</text><text x="2507" y="190" font-size="5.5">-0.4</text>
<text x="2524" y="202" font-size="5">0.00 0.25 0.50 0.75 1.00</text>
<text x="2545" y="211" font-size="5.5">Re[S₂₁] (arb.units)</text>
<text x="2500" y="180" font-size="5" transform="rotate(-90 2500 180)">Im[S₂₁] (arb.units)</text>
</g>
<g id="fig3Axes"></g>
</svg>

<script>
const notchFreq = [13,20,27,34,41,48,55,62,69,76,83,90,97,104,111,118,125,132,139,146,153,160,167,174,181,188,195,201];
const infidE = [0.085,0.09,0.095,0.088,0.09,0.092,0.085,0.09,0.095,0.1,0.092,0.088,0.07,0.085,0.088,0.08,0.09,0.1,0.095,0.11,0.09,0.1,0.095,0.09,0.105,0.09,0.1,0.085];
const infidG = [0.014,0.011,0.02,0.018,0.012,0.016,0.013,0.018,0.015,0.017,0.012,0.016,0.011,0.015,0.017,0.012,0.014,0.016,0.011,0.015,0.013,0.017,0.012,0.015,0.019,0.012,0.016,0.011];
const specDet = [-80,-60,-40,-20,-5,0,5,20,40,50,60,80];
const peakPurple = [-1.65,-1.55,-1.45,-1.25,-0.7,0,-0.7,-1.05,-1.4,-1.6,-1.6,-1.75];
const peakGreen = [-2.05,-1.95,-1.8,-1.5,-0.8,0,-0.75,-1.0,-1.2,-1.3,-1.35,-1.45];
const redTop = [-2.4,-2.35,-2.3,-2.1,-1.4,0,-1.2,-1.9,-2.4,-2.7,-2.75,-2.85];
const blueTop = [-2.35,-2.3,-2.2,-2.0,-1.3,0,-1.3,-2.3,-3.0,-3.4,-3.2,-3.0];
const blueBottom = [-4.6,-4.5,-4.4,-4.2,-3.8,-3.2,-3.8,-4.2,-4.8,-5.6,-5.2,-4.6];
const specYTicks = [0,-1,-2,-3,-4,-5,-6,-7,-8];
const specXTicks = [-80,-60,-40,-20,0,20,40,60,80];
const ramT = [0,0.1,0.25,0.5,0.75,1.0,1.25,1.5,1.75,2.0];
const purpleUp = [0.92,0.88,0.84,0.79,0.75,0.71,0.67,0.64,0.62,0.60];
const purpleLo = [0.04,0.10,0.17,0.24,0.28,0.33,0.36,0.38,0.40,0.42];
const greenUp = [0.90,0.72,0.66,0.64,0.64,0.63,0.63,0.63,0.62,0.62];
const greenLo = [0.05,0.28,0.35,0.37,0.37,0.37,0.38,0.38,0.38,0.38];
const fitVals = [0.92,0.89,0.855,0.80,0.755,0.715,0.68,0.65,0.625,0.60];
const ramXTicks = [0,0.25,0.5,0.75,1.0,1.25,1.5,1.75,2.0];
const ramYTicks = [0,0.2,0.4,0.6,0.8,1.0];
const hmAmpTicks = [0,0.025,0.05,0.075,0.1,0.125,0.15,0.175,0.2];
const hmDetTicks = [-40,-20,0,20,40];
const cbTicks = [0,0.2,0.4,0.6,0.8,1.0];
const thrDetC = [0,6,11,14,16,20,30,40,50];
const thrAmpC = [0,0.025,0.05,0.1,0.2,0.3,0.38,0.45,0.5];
const thrDetD = [0,3,5,8,11.5,15,20,50];
const thrAmpD = [0,0.012,0.03,0.08,0.2,0.45,1.2,5];
const thrDetE = [0,6,12,16,20,30,40,50];
const thrAmpE = [0,0.02,0.05,0.1,0.18,0.3,0.38,0.45];
const thrDetF = [0,3,6,9,12,16,20,50];
const thrAmpF = [0,0.01,0.035,0.09,0.2,0.5,1.2,5];
const brightLevel = [0.86,0.86,0.9,0.93];
const stripeDepth = [0.55,0,0.6,0];
const s21Freq=[6.8935,6.895,6.896,6.897,6.898,6.899,6.8995,6.900,6.9005,6.901,6.9015,6.902,6.903,6.904,6.905,6.906,6.907,6.908];
const s21G=[0.95,0.98,0.97,0.98,0.96,0.9,0.8,0.6,0.35,0.08,0.3,0.55,0.68,0.74,0.78,0.8,0.78,0.8];
const s21E=[0.96,0.98,0.96,0.9,0.6,0.33,0.35,0.5,0.62,0.7,0.74,0.76,0.78,0.79,0.8,0.78,0.8,0.79];

function interp(xs, ys, x){
  if(x<=xs[0]) return ys[0];
  for(let i=1;i<xs.length;i++){ if(x<=xs[i]){const t=(x-xs[i-1])/(xs[i]-xs[i-1]);return ys[i-1]+t*(ys[i]-ys[i-1]);} }
  return ys[ys.length-1];
}
const VIR=[[68,1,84],[72,40,120],[62,74,137],[49,104,142],[38,130,142],[31,158,137],[53,183,121],[109,205,89],[180,222,44],[253,231,37]];
function viridis(v){v=Math.max(0,Math.min(1,v));const p=v*9,i=Math.min(8,Math.floor(p)),t=p-i;const a=VIR[i],b=VIR[i+1];return 'rgb('+Math.round(a[0]+(b[0]-a[0])*t)+','+Math.round(a[1]+(b[1]-a[1])*t)+','+Math.round(a[2]+(b[2]-a[2])*t)+')';}
const SVGNS='http://www.w3.org/2000/svg';
function svgEl(tag, attrs, parent, txt){const e=document.createElementNS(SVGNS,tag);for(const k in attrs)e.setAttribute(k,attrs[k]);if(txt!==undefined)e.textContent=txt;parent.appendChild(e);return e;}

(function(){
  const xs=f=>1226+f/210*147;
  const ys=v=>244+(Math.log10(0.085)-Math.log10(v))/(Math.log10(0.085)-Math.log10(0.0145))*46;
  document.getElementById('fig1dE').setAttribute('points',notchFreq.map((f,i)=>xs(f)+','+ys(infidE[i])).join(' '));
  document.getElementById('fig1dG').setAttribute('points',notchFreq.map((f,i)=>xs(f)+','+ys(infidG[i])).join(' '));
})();
(function(){
  const xs=f=>2385+(f-6.8935)/(6.9085-6.8935)*98, ys=v=>100+(1-v)*(166-100)/0.75;
  document.getElementById('s21g').setAttribute('points',s21Freq.map((f,i)=>xs(f)+','+ys(s21G[i])).join(' '));
  document.getElementById('s21e').setAttribute('points',s21Freq.map((f,i)=>xs(f)+','+ys(s21E[i])).join(' '));
})();
(function(){
  const g=document.getElementById('specSketch');
  const lobeH=[70,75,80,85,90,95,112,95,90,85,80,75,70];
  lobeH.forEach((h,i)=>{const cx=1200+i*13.5;const p=svgEl('path',{d:'M'+(cx-7)+' 198 Q'+(cx-7)+' '+(198-h)+' '+cx+' '+(198-h)+' Q'+(cx+7)+' '+(198-h)+' '+(cx+7)+' 198 Z',fill:'#b9e0c8',opacity:'0.8'},g);
    
    });
  svgEl('path',{d:'M1202 193 L1222 193 Q1226 193 1227 160 Q1228 193 1232 193 L1252 193',fill:'none',stroke:'#36a9e1','stroke-width':1.5},g);
  svgEl('path',{d:'M1252 193 L1273 193 Q1276 193 1277 160 Q1278 193 1281 193 L1300 193',fill:'none',stroke:'#1e9e4a','stroke-width':1.5},g);
  svgEl('path',{d:'M1300 193 L1320 193 Q1323 193 1324 162 Q1325 193 1328 193 L1350 193',fill:'none',stroke:'#f08a3c','stroke-width':1.5},g);
  svgEl('line',{x1:1276,y1:130,x2:1276,y2:142,stroke:'#1e9e4a','stroke-width':1.5},g);
})();
(function(){
  const cv=document.getElementById('cvSpec'),ctx=cv.getContext('2d');
  const W=312,H=167;
  const X=d=>(d+80)/160*W, Y=l=>(-l)/8*H;
  const tg=document.getElementById('fig1cTicks');
  specYTicks.forEach(t=>{const e=svgEl('text',{x:1036,y:345+Y(t)+3,'font-size':6.5},tg,'10'+(t===0?'⁰':'⁻'+'⁰¹²³⁴⁵⁶⁷⁸'[-t]));
    
    });
  specXTicks.forEach(t=>{const e=svgEl('text',{x:1056+X(t)-7,y:522,'font-size':7},tg,String(t).replace('-','−'));
    
    });
  function band(top,bot,color){ctx.beginPath();for(let d=-80;d<=80;d+=0.5){ctx.lineTo(X(d),Y(interp(specDet,top,d)));}for(let d=80;d>=-80;d-=0.5){ctx.lineTo(X(d),Y(interp(specDet,bot,d)));}ctx.closePath();ctx.fillStyle=color;ctx.fill();}
  band(redTop,blueBottom.map(v=>v-0.4),'#d9413b');
  band(blueTop,blueBottom,'#3fb3e3');
  ctx.strokeStyle='#3fb3e3';ctx.lineWidth=1;
  for(let d=-78;d<=78;d+=2.5){const b=interp(specDet,blueBottom,d);ctx.beginPath();ctx.moveTo(X(d),Y(b));ctx.lineTo(X(d),Y(b-0.9-0.6*Math.abs(Math.sin(d))));ctx.stroke();}
  function lobes(peaks,color){ctx.strokeStyle=color;ctx.lineWidth=1;ctx.beginPath();let first=true;for(let d=-80;d<=80;d+=0.1){const pk=interp(specDet,peaks,d);const s=Math.abs(Math.sin(Math.PI*d/5));const v=Math.abs(d)<2.5?pk:pk+Math.log10(Math.max(s,0.004));const y=Y(Math.max(v,-8));if(first){ctx.moveTo(X(d),y);first=false;}else ctx.lineTo(X(d),y);}ctx.stroke();}
  lobes(peakGreen,'#2a9d5c');
  lobes(peakPurple,'#4b4ba0');
})();
(function(){
  const cv=document.getElementById('cvRam'),ctx=cv.getContext('2d');
  const X=t=>13+t/2.0*300, Y=v=>206-v*206;
  const tg=document.getElementById('fig2Ticks');
  ramXTicks.forEach(t=>{const e=svgEl('text',{x:1443+X(t)-8,y:312,'font-size':7},tg,t.toFixed(2));
    
    });
  ramYTicks.forEach(t=>{const e=svgEl('text',{x:1431,y:96+Y(t)+3,'font-size':7},tg,t.toFixed(1));
    
    });
  function band(up,lo,color){ctx.beginPath();for(let t=0;t<=2.0;t+=0.005){ctx.lineTo(X(t),Y(interp(ramT,up,t)));}for(let t=2.0;t>=0;t-=0.005){ctx.lineTo(X(t),Y(interp(ramT,lo,t)));}ctx.closePath();ctx.fillStyle=color;ctx.fill();}
  band(purpleUp,purpleLo,'#5b5ea6');
  ctx.strokeStyle='rgba(150,150,210,0.35)';ctx.lineWidth=0.6;
  for(let t=0;t<=2.0;t+=0.012){const u=interp(ramT,purpleUp,t),l=interp(ramT,purpleLo,t);ctx.beginPath();ctx.moveTo(X(t),Y(u));ctx.lineTo(X(t),Y(l));ctx.stroke();}
  band(greenUp,greenLo,'#3aaa6e');
  ctx.setLineDash([4,3]);ctx.strokeStyle='#111';ctx.lineWidth=1.6;ctx.beginPath();
  for(let t=0;t<=2.0;t+=0.02){const v=interp(ramT,fitVals,t);if(t===0)ctx.moveTo(X(t),Y(v));else ctx.lineTo(X(t),Y(v));}ctx.stroke();
})();
function drawHeat(id, idx, thrDet, thrAmp, x0, y0, title, label, annot){
  const cv=document.getElementById(id),ctx=cv.getContext('2d');
  const W=233,H=225, hi=brightLevel[idx], sd=stripeDepth[idx], lo=0.04;
  const edge=thrDet[3];
  for(let py=0;py<H;py+=1){
    const d=50-py/H*100, ad=Math.abs(d);
    for(let px=0;px<W;px+=2){
      const a=px/W*0.2;
      let thr=interp(thrDet,thrAmp,ad);
      if(sd>0 && ad>edge){thr=thr*(1-sd*0.5*(1+Math.cos(2*Math.PI*(ad-edge)/6.3)));}
      let v=hi;
      if(thr<=0) v=lo; else { const r=a/thr; v=lo+(hi-lo)/(1+Math.pow(r,4)); }
      if(idx>=2) v=Math.min(v+0.04*(1-a/0.2),1);
      ctx.fillStyle=viridis(v);ctx.fillRect(px,py,2,1);
    }
  }
  if(idx===1||idx===3){ctx.fillStyle='#f0c23a';ctx.fillRect(2,H/2-0.7,W,1.4);}
  const g=document.getElementById('fig3Axes');
  const t=svgEl('text',{x:x0+W/2,y:y0-5,'font-size':9,'text-anchor':'middle'},g,title);
  
  
  const l=svgEl('text',{x:x0-48,y:y0+10,'font-size':14},g,label);
  
  
  svgEl('rect',{x:x0,y:y0,width:W,height:H,fill:'none',stroke:'#333','stroke-width':0.8},g);
  hmDetTicks.forEach(dv=>{const yy=y0+(50-dv)/100*H;const e=svgEl('text',{x:x0-4,y:yy+3,'font-size':7,'text-anchor':'end'},g,String(dv).replace('-','−'));
    
    
    svgEl('line',{x1:x0-2,y1:yy,x2:x0,y2:yy,stroke:'#333','stroke-width':0.6},g);});
  hmAmpTicks.forEach(av=>{const xx=x0+av/0.2*W;const e=svgEl('text',{x:xx,y:y0+H+10,'font-size':6.5,'text-anchor':'middle'},g,av.toFixed(3));
    
    });
  const xl=svgEl('text',{x:x0+W/2,y:y0+H+21,'font-size':7,'text-anchor':'middle'},g,'Normalized Probe Amp. (arb. units)');
  
  
  const yl=svgEl('text',{x:x0-26,y:y0+H/2,'font-size':7,'text-anchor':'middle',transform:'rotate(-90 '+(x0-26)+' '+(y0+H/2)+')'},g,'Probe Detuning (MHz)');
  
  
  const cbx=x0+W+15;
  for(let i=0;i<H;i++){svgEl('rect',{x:cbx,y:y0+i,width:11,height:1.2,fill:viridis(1-i/H)},g);}
  cbTicks.forEach(c=>{const yy=y0+(1-c)*H;const e=svgEl('text',{x:cbx+14,y:yy+3,'font-size':7},g,c.toFixed(1));
    
    });
  const pe=svgEl('text',{x:cbx-1,y:y0-3,'font-size':9,'font-style':'italic'},g,'Pe');
  
  
  if(annot){const an=svgEl('text',{x:x0+12,y:y0+45,'font-size':9,fill:'#d9413b'},g,'κ/2π=2.2 MHz, 2χ/2π=2.1 MHz');
    
    }
}
drawHeat('hmC',0,thrDetC,thrAmpC,2011,232,'Expr. Without DRAG','(c)',false);
drawHeat('hmD',1,thrDetD,thrAmpD,2371,232,'Expr. With DRAG','(d)',false);
drawHeat('hmE',2,thrDetE,thrAmpE,2011,499,'Theory Without DRAG','(e)',true);
drawHeat('hmF',3,thrDetF,thrAmpF,2371,499,'Theory With DRAG','(f)',true);
</script>
</body></html>
